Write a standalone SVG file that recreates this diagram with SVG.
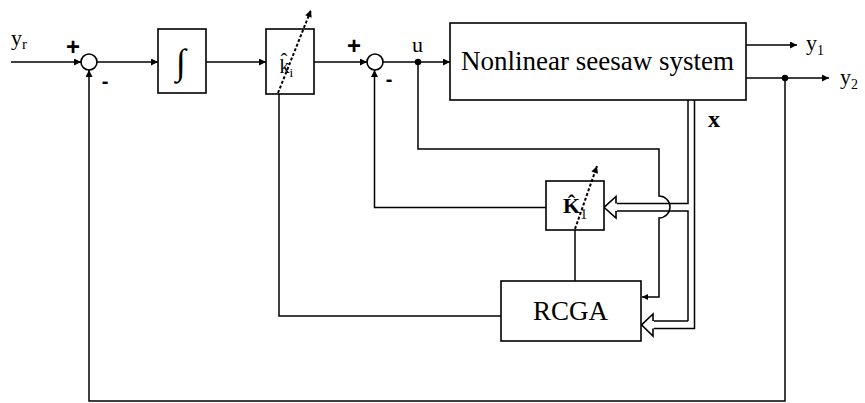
<svg xmlns="http://www.w3.org/2000/svg" width="865" height="403" viewBox="0 0 865 403">
<defs>
<marker id="arr" viewBox="0 0 10 10" refX="10" refY="5" markerWidth="10" markerHeight="7" markerUnits="userSpaceOnUse" orient="auto">
<path d="M0,0 L10,5 L0,10 z" fill="#000"/>
</marker>
<marker id="arrs" viewBox="0 0 10 10" refX="10" refY="5" markerWidth="8" markerHeight="6" markerUnits="userSpaceOnUse" orient="auto">
<path d="M0,0 L10,5 L0,10 z" fill="#000"/>
</marker>
</defs>
<style>
.b{fill:#fff;stroke:#000;stroke-width:1.6}
.w{fill:none;stroke:#000;stroke-width:1.5}
.d{fill:none;stroke:#000;stroke-width:2;stroke-dasharray:3,2}
.t{font-family:"Liberation Serif","Times New Roman",serif;fill:#000}
.s{font-family:"Liberation Sans",Arial,sans-serif;font-weight:bold;fill:#000}
</style>
<rect width="865" height="403" fill="#fff"/>
<g id="connectors">
<line class="w" x1="11" y1="62" x2="81" y2="62" marker-end="url(#arr)"/>
<line class="w" x1="97" y1="62" x2="158" y2="62" marker-end="url(#arr)"/>
<line class="w" x1="206" y1="62" x2="266" y2="62" marker-end="url(#arr)"/>
<line class="w" x1="314" y1="62" x2="367" y2="62" marker-end="url(#arr)"/>
<line class="w" x1="383" y1="62" x2="450" y2="62" marker-end="url(#arr)"/>
<line class="w" x1="746" y1="45" x2="797" y2="45" marker-end="url(#arr)"/>
<line class="w" x1="746" y1="78" x2="829" y2="78" marker-end="url(#arr)"/>
<polyline class="w" points="785,78 785,401 89,401 89,70" marker-end="url(#arr)"/>
<polyline class="w" points="546,207.5 374.5,207.5 374.5,70" marker-end="url(#arr)"/>
<polyline class="w" points="279,94 279,316 501,316"/>
<line class="w" x1="575" y1="230" x2="575" y2="281"/>
<path class="w" d="M418,62 V149 H659 V196 A11,11 0 0 1 659,218 V297 H642" marker-end="url(#arrs)"/>
<path class="w" d="M688,100 V203.5 H616 M688,321 V211 H616 M694.5,100 V328.5 H653 M688,321 H653"/>
<polygon class="b" points="604,207.3 616,196.5 616,218 " stroke-width="1.5"/>
<line x1="616" y1="203.5" x2="616" y2="211" stroke="#fff" stroke-width="2"/>
<polygon class="b" points="641.5,324.8 653,314 653,336" stroke-width="1.5"/>
<line x1="653" y1="321" x2="653" y2="328.5" stroke="#fff" stroke-width="2"/>
<circle cx="418" cy="62" r="3.2" fill="#000"/>
<circle cx="785" cy="78" r="3.2" fill="#000"/>
</g>
<g id="sum1">
<circle class="b" cx="89" cy="62" r="8"/>
<text class="s" x="73" y="55" font-size="24" text-anchor="middle">+</text>
<text class="s" x="105" y="87.5" font-size="20" text-anchor="middle">-</text>
</g>
<g id="integrator">
<rect class="b" x="158" y="29" width="48" height="64"/>
<text class="t" x="181" y="74" font-size="36" text-anchor="middle">∫</text>
</g>
<g id="ki">
<rect class="b" x="266" y="29" width="48" height="65"/>
<text class="t" x="279.5" y="73" font-size="20">k̂<tspan font-size="13" dy="4">i</tspan></text>
<line class="d" x1="278" y1="93" x2="311" y2="10" marker-end="url(#arr)"/>
</g>
<g id="sum2">
<circle class="b" cx="375" cy="62" r="8"/>
<text class="s" x="354" y="54" font-size="24" text-anchor="middle">+</text>
<text class="s" x="389" y="86" font-size="20" text-anchor="middle">-</text>
<text class="t" x="417.5" y="52" font-size="22" text-anchor="middle">u</text>
</g>
<g id="system">
<rect class="b" x="450" y="23" width="296" height="77"/>
<text class="t" x="597.5" y="70" font-size="27" text-anchor="middle">Nonlinear seesaw system</text>
<text class="t" x="708" y="127" font-size="24" font-weight="bold">x</text>
</g>
<g id="K1">
<rect class="b" x="546" y="181" width="58" height="49"/>
<text class="t" x="563" y="213" font-size="22" font-weight="bold">K̂<tspan font-size="14" font-weight="normal" dy="6">1</tspan></text>
<line class="d" x1="575" y1="229" x2="597" y2="166" marker-end="url(#arr)"/>
</g>
<g id="rcga">
<rect class="b" x="501" y="281" width="140" height="60"/>
<text class="t" x="570.5" y="320" font-size="27" text-anchor="middle">RCGA</text>
</g>
<g id="labels">
<text class="t" x="11" y="45" font-size="22">y<tspan font-size="15" dy="4">r</tspan></text>
<text class="t" x="806" y="50" font-size="22">y<tspan font-size="14" dy="5">1</tspan></text>
<text class="t" x="840" y="84" font-size="22">y<tspan font-size="14" dy="5">2</tspan></text>
</g>
</svg>
